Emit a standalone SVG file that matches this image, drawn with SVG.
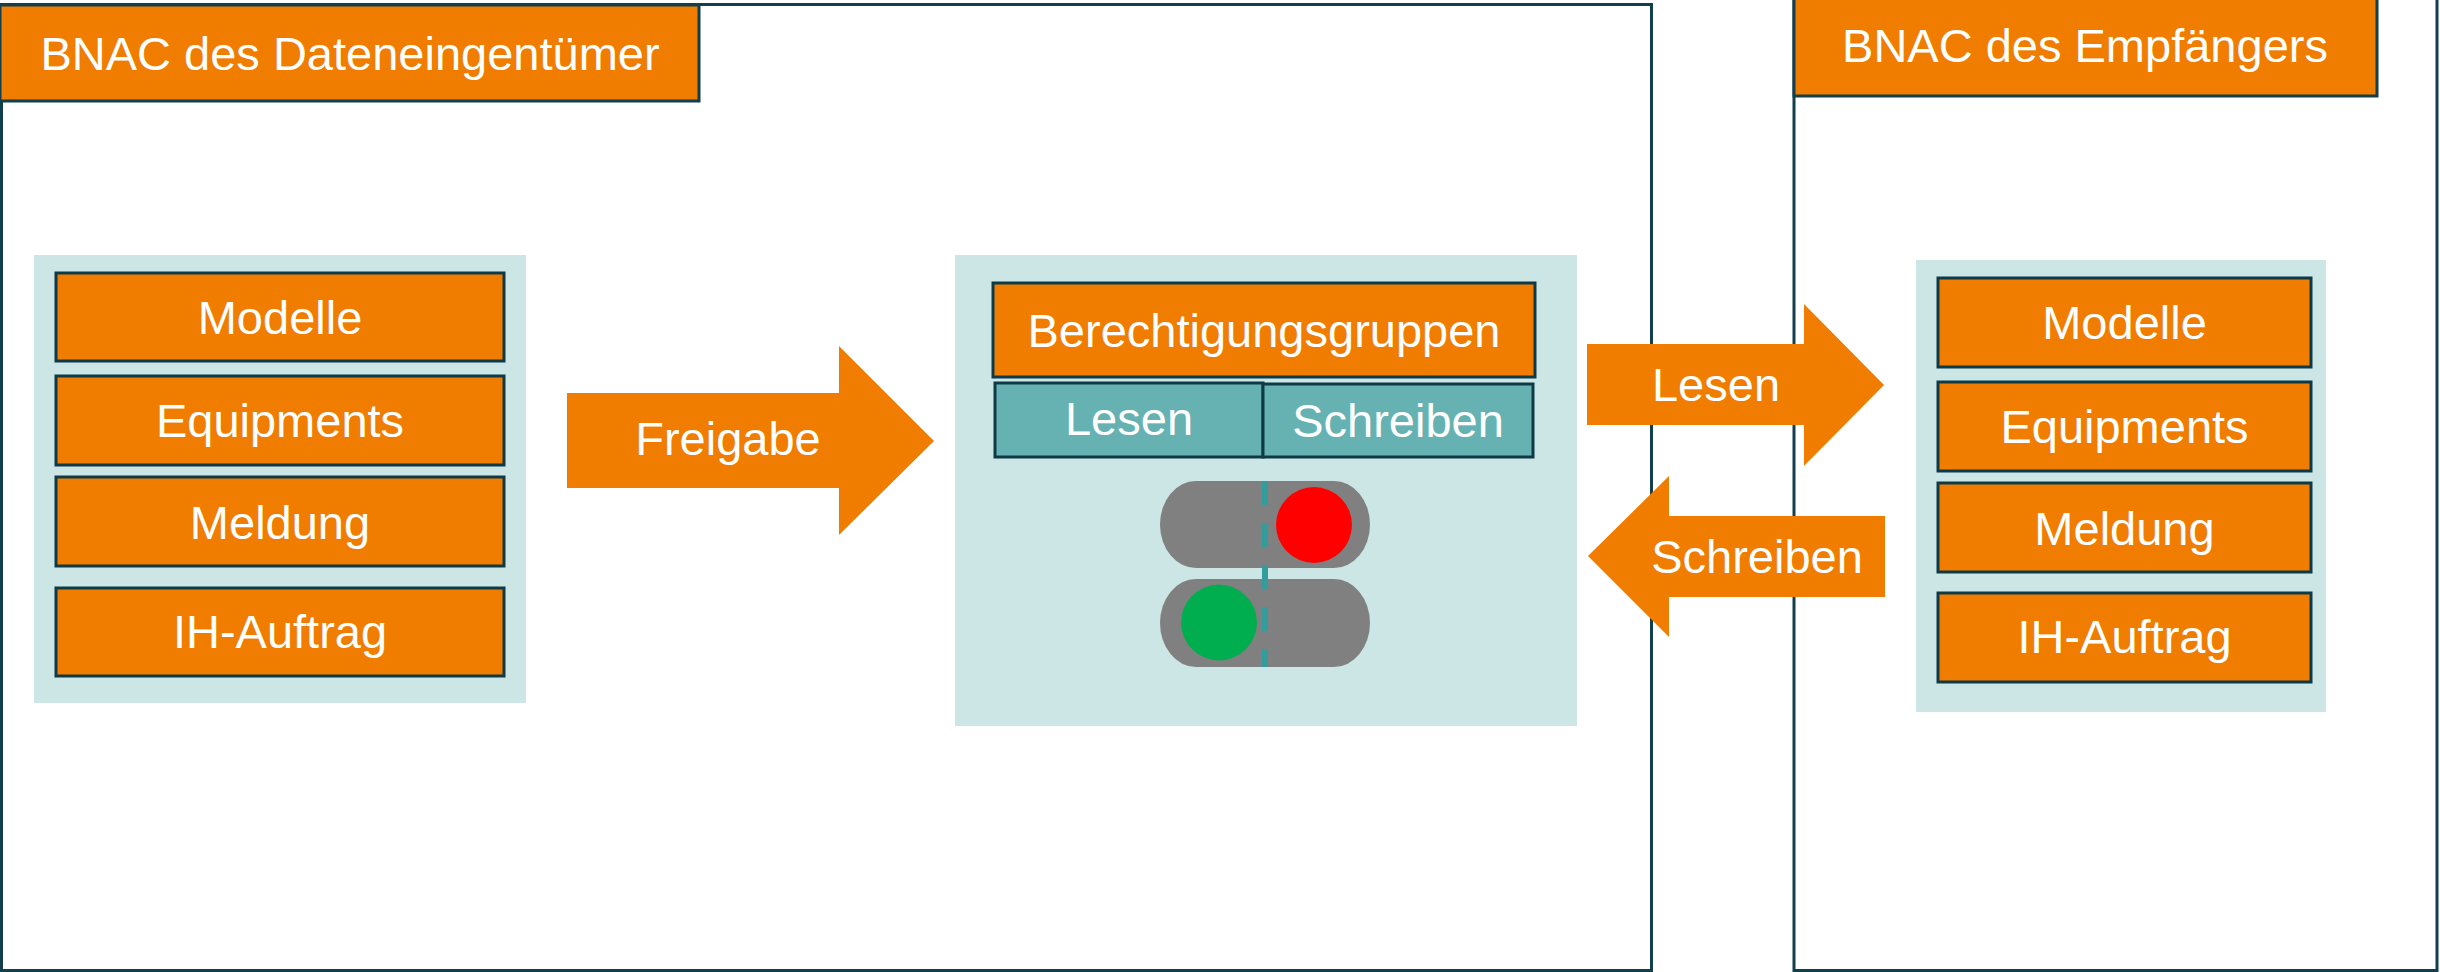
<svg xmlns="http://www.w3.org/2000/svg" width="2440" height="972" viewBox="0 0 2440 972">
<style>
text{font-family:"Liberation Sans",Arial,sans-serif;font-size:47px;fill:#ffffff;text-anchor:middle}
.frame{fill:none;stroke:#123f4d;stroke-width:3}
.hdr{fill:#f07c00;stroke:#123f4d;stroke-width:3}
.panel{fill:#cce5e5}
.item{fill:#f07c00;stroke:#0e3a48;stroke-width:3}
.perm{fill:#66b2b2;stroke:#0e3a48;stroke-width:3}
.arrow{fill:#f07c00}
.pill{fill:#808080}
</style>
<rect width="2440" height="972" fill="#ffffff"/>
<g id="owner-frame">
<rect class="frame" x="1.5" y="4.5" width="1650" height="966"/>
<rect class="hdr" x="0" y="5" width="699" height="96"/>
<text x="350" y="70">BNAC des Dateneingentümer</text>
</g>
<g id="receiver-frame">
<rect class="frame" x="1794" y="-5" width="643" height="975.5"/>
<rect class="hdr" x="1794" y="-3" width="583" height="99"/>
<text x="2085" y="62">BNAC des Empfängers</text>
</g>
<g id="owner-objects">
<rect class="panel" x="34" y="255" width="492" height="448"/>
<rect class="item" x="56" y="273" width="448" height="88"/>
<text x="280" y="334">Modelle</text>
<rect class="item" x="56" y="376" width="448" height="89"/>
<text x="280" y="437">Equipments</text>
<rect class="item" x="56" y="477" width="448" height="89"/>
<text x="280" y="539">Meldung</text>
<rect class="item" x="56" y="588" width="448" height="88"/>
<text x="280" y="648">IH-Auftrag</text>
</g>
<g id="permissions">
<rect class="panel" x="955" y="255" width="622" height="471"/>
<rect class="item" x="993" y="283" width="542" height="94"/>
<text x="1264" y="347">Berechtigungsgruppen</text>
<rect class="perm" x="995" y="383" width="268" height="74"/>
<text x="1129" y="435">Lesen</text>
<rect class="perm" x="1263" y="384" width="270" height="73"/>
<text x="1398" y="437">Schreiben</text>
<rect class="pill" x="1160" y="481" width="210" height="87" rx="36" ry="43.5"/>
<rect class="pill" x="1160" y="579" width="210" height="88" rx="36" ry="44"/>
<line x1="1265" y1="481" x2="1265" y2="667" stroke="#339c9c" stroke-width="6" stroke-dasharray="24 18"/>
<circle cx="1314" cy="525" r="38" fill="#ff0000"/>
<circle cx="1219" cy="622.5" r="38" fill="#00ad4f"/>
</g>
<g id="receiver-objects">
<rect class="panel" x="1916" y="260" width="410" height="452"/>
<rect class="item" x="1938" y="278" width="373" height="89"/>
<text x="2124.5" y="339">Modelle</text>
<rect class="item" x="1938" y="382" width="373" height="89"/>
<text x="2124.5" y="443">Equipments</text>
<rect class="item" x="1938" y="483" width="373" height="89"/>
<text x="2124.5" y="545">Meldung</text>
<rect class="item" x="1938" y="593" width="373" height="89"/>
<text x="2124.5" y="653">IH-Auftrag</text>
</g>
<g id="connectors">
<g id="freigabe">
<polygon class="arrow" points="567,393 839,393 839,346 934,441 839,535 839,488 567,488"/>
<text x="728" y="455">Freigabe</text>
</g>
<g id="lesen">
<polygon class="arrow" points="1587,344 1804,344 1804,304 1884,385 1804,466 1804,425 1587,425"/>
<text x="1716" y="401">Lesen</text>
</g>
<g id="schreiben">
<polygon class="arrow" points="1885,516 1669,516 1669,476 1588,556 1669,637 1669,597 1885,597"/>
<text x="1757" y="573">Schreiben</text>
</g>
</g>
</svg>
